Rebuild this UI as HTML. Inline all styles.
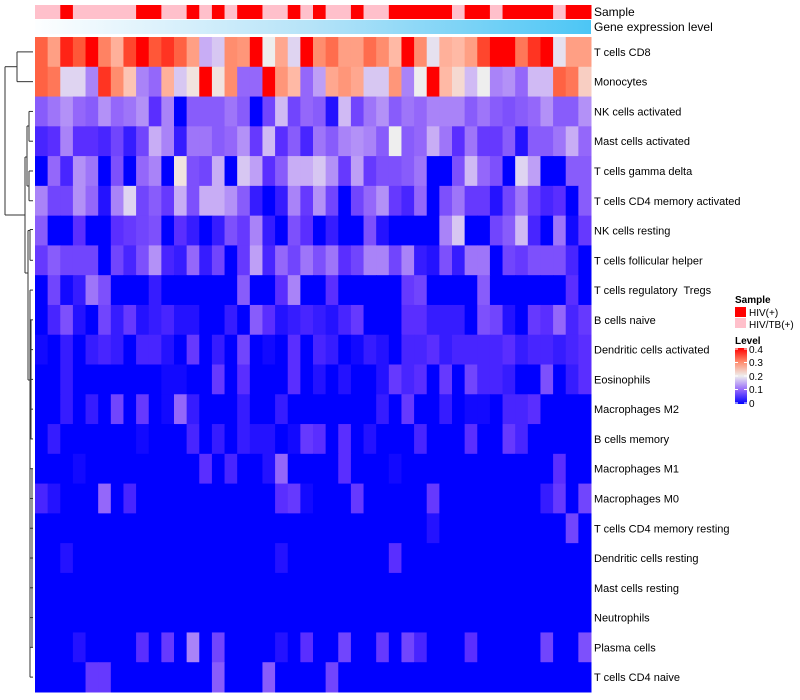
<!DOCTYPE html>
<html><head><meta charset="utf-8"><style>
html,body{margin:0;padding:0;background:#fff;}
svg{display:block;font-family:"Liberation Sans",sans-serif;}
#labels text{white-space:pre;}
</style></head><body>
<svg id="chart" width="800" height="700" viewBox="0 0 800 700" xmlns="http://www.w3.org/2000/svg">
<defs>
<linearGradient id="geneGrad" x1="0" x2="1" y1="0" y2="0"><stop offset="0" stop-color="#fdfeff"/><stop offset="0.5" stop-color="#b5e3f8"/><stop offset="1" stop-color="#4cc6f5"/></linearGradient>
<linearGradient id="levelGrad" x1="0" x2="0" y1="1" y2="0"><stop offset="0" stop-color="#0000ff"/><stop offset="0.25" stop-color="#9467fa"/><stop offset="0.5" stop-color="#eeeeee"/><stop offset="0.75" stop-color="#ff8d6e"/><stop offset="1" stop-color="#ff0000"/></linearGradient>
</defs>
<g id="dendro" stroke="#333" stroke-width="1" fill="none"></g>
<rect x="35" y="20" width="556" height="14" fill="url(#geneGrad)"/>
<g id="sampleBar"></g>
<g id="cells"></g>
<g id="labels" font-size="11" fill="#000"></g>
<text x="594" y="16" font-size="12">Sample</text>
<text x="594" y="31" font-size="12">Gene expression level</text>
<g font-size="10">
<text x="735" y="303" font-weight="bold">Sample</text>
<rect x="735" y="307" width="11" height="10" fill="#ff0000"/>
<text x="749" y="316">HIV(+)</text>
<rect x="735" y="318" width="11" height="10" fill="#ffc0cb"/>
<text x="749" y="328">HIV/TB(+)</text>
<text x="735" y="344" font-weight="bold">Level</text>
<rect x="735" y="348" width="12" height="56" fill="url(#levelGrad)"/>
<g stroke="#fff" stroke-width="1"><line x1="735" x2="738" y1="349" y2="349"/><line x1="744" x2="747" y1="349" y2="349"/><line x1="735" x2="738" y1="362.5" y2="362.5"/><line x1="744" x2="747" y1="362.5" y2="362.5"/><line x1="735" x2="738" y1="376" y2="376"/><line x1="744" x2="747" y1="376" y2="376"/><line x1="735" x2="738" y1="389.5" y2="389.5"/><line x1="744" x2="747" y1="389.5" y2="389.5"/><line x1="735" x2="738" y1="403" y2="403"/><line x1="744" x2="747" y1="403" y2="403"/></g>
<text x="749" y="353">0.4</text>
<text x="749" y="366">0.3</text>
<text x="749" y="380">0.2</text>
<text x="749" y="393">0.1</text>
<text x="749" y="407">0</text>
</g>
</svg>
<script>
const rowLabels = ["T cells CD8","Monocytes","NK cells activated","Mast cells activated","T cells gamma delta","T cells CD4 memory activated","NK cells resting","T cells follicular helper","T cells regulatory  Tregs","B cells naive","Dendritic cells activated","Eosinophils","Macrophages M2","B cells memory","Macrophages M1","Macrophages M0","T cells CD4 memory resting","Dendritic cells resting","Mast cells resting","Neutrophils","Plasma cells","T cells CD4 naive"];
const sampleGroups = ["T","T","H","T","T","T","T","T","H","H","T","T","H","T","H","T","H","H","T","T","H","T","H","T","T","H","T","T","H","H","H","H","H","T","H","H","T","H","H","H","H","T","H","H"];
const r0 = [0.34,0.28,0.38,0.35,0.4,0.31,0.26,0.36,0.4,0.35,0.37,0.34,0.28,0.15,0.17,0.3,0.29,0.4,0.2,0.27,0.18,0.4,0.3,0.33,0.28,0.28,0.33,0.3,0.25,0.4,0.3,0.19,0.26,0.25,0.28,0.36,0.4,0.4,0.32,0.37,0.4,0.19,0.28,0.28];
const r1 = [0.34,0.32,0.18,0.18,0.12,0.37,0.3,0.24,0.12,0.1,0.26,0.17,0.21,0.4,0.21,0.3,0.1,0.1,0.4,0.29,0.25,0.1,0.14,0.27,0.29,0.27,0.17,0.17,0.29,0.12,0.2,0.4,0.25,0.22,0.16,0.2,0.12,0.13,0.1,0.16,0.16,0.34,0.32,0.23];
const r2 = [0.09,0.11,0.13,0.1,0.09,0.13,0.1,0.11,0.13,0.05,0.12,0,0.09,0.09,0.09,0.11,0.09,0,0.07,0.16,0.07,0.1,0.09,0.02,0.16,0.07,0.11,0.13,0.09,0.11,0.1,0.12,0.12,0.12,0.09,0.11,0.09,0.08,0.09,0.1,0.13,0.09,0.09,0.13];
const r3 = [0.04,0.05,0.12,0.05,0.05,0.04,0.07,0.03,0.07,0.15,0.12,0.03,0.11,0.11,0.09,0.1,0.13,0.06,0.16,0.05,0.09,0.04,0.11,0.09,0.12,0.13,0.12,0.09,0.2,0.09,0.1,0.15,0.11,0.05,0.11,0.06,0.06,0.09,0.02,0.09,0.09,0.11,0.15,0.1];
const r4 = [0,0.1,0.04,0.13,0.11,0,0.08,0,0.1,0.12,0,0.21,0.08,0.07,0.15,0,0.17,0.14,0.05,0.09,0.15,0.15,0.17,0.13,0.06,0.14,0.06,0.08,0.08,0.09,0.11,0,0,0.08,0.16,0.1,0.08,0,0.18,0.14,0,0,0.09,0.09];
const r5 = [0.12,0.07,0.07,0.13,0.1,0.02,0.12,0.18,0.07,0.09,0.06,0.15,0.08,0.15,0.15,0.13,0.09,0.03,0,0.03,0.12,0.06,0.13,0.07,0,0.07,0.1,0.13,0.06,0.04,0.1,0,0.08,0.11,0.06,0.06,0.02,0.07,0.11,0.06,0.04,0.05,0,0.09];
const r6 = [0.09,0,0,0.05,0,0,0.05,0.06,0.07,0.08,0,0.05,0.03,0,0.03,0.08,0.06,0.12,0.03,0,0.08,0.05,0,0.03,0,0,0.08,0.02,0,0,0,0,0.12,0.17,0,0,0.07,0.09,0.16,0.04,0,0.11,0.01,0.06];
const r7 = [0.06,0.09,0.07,0.07,0.07,0,0.07,0.04,0.08,0.13,0.04,0.03,0.1,0.03,0.07,0,0.06,0.14,0.04,0.1,0.07,0.11,0.08,0.11,0.05,0.07,0.12,0.12,0.07,0.12,0.03,0.02,0.08,0.03,0.11,0.11,0,0.07,0.06,0.08,0.08,0.08,0.04,0];
const r8 = [0,0.07,0.01,0.03,0.11,0.08,0,0,0,0.03,0,0,0,0,0,0,0.09,0,0,0.05,0.12,0,0,0.05,0,0,0,0,0,0.06,0.07,0,0,0,0,0.09,0,0,0,0,0,0,0.05,0];
const r9 = [0,0.04,0.08,0.02,0,0.07,0.03,0.06,0.02,0.03,0.04,0.02,0.02,0,0,0.03,0,0.09,0.05,0.02,0.03,0.04,0.03,0.02,0.04,0.06,0,0,0,0.05,0.05,0.03,0.03,0.03,0,0.08,0.07,0.02,0,0.06,0.05,0.1,0.04,0.06];
const r10 = [0.01,0,0.03,0,0.03,0.04,0.03,0,0.04,0.04,0.02,0,0.06,0,0.03,0,0.07,0,0.01,0,0.05,0,0.04,0.03,0,0.01,0.03,0.02,0,0.04,0.04,0.05,0.03,0.04,0.04,0.04,0.04,0.05,0.03,0.04,0.04,0.03,0.04,0.05];
const r11 = [0,0,0.03,0,0,0,0,0,0,0,0.01,0.01,0,0,0.06,0,0.05,0,0,0,0.05,0,0.02,0,0.02,0,0,0.02,0.06,0.04,0.05,0,0.06,0,0.07,0.04,0.04,0.03,0,0,0.08,0,0.03,0.05];
const r12 = [0,0,0.03,0,0.03,0,0.07,0,0.06,0,0.01,0.1,0.03,0,0,0,0.03,0,0,0.03,0,0,0,0,0,0,0,0.03,0,0.06,0,0,0.03,0,0.01,0.01,0,0.04,0.04,0.05,0,0,0,0];
const r13 = [0,0.03,0,0,0,0,0,0,0.01,0,0,0,0.04,0,0.03,0,0.03,0.02,0.02,0,0.01,0.06,0.05,0,0.05,0,0.02,0,0,0,0.04,0,0,0,0.05,0,0,0.06,0.04,0,0,0,0,0];
const r14 = [0,0,0,0.01,0,0,0,0,0,0,0,0,0,0.05,0,0.04,0,0,0.02,0.1,0,0,0,0,0.05,0,0,0,0.01,0,0,0,0,0,0,0,0,0,0,0,0,0.05,0,0];
const r15 = [0.04,0.02,0,0,0,0.1,0,0.04,0,0,0,0,0,0,0,0,0,0,0,0.05,0.06,0.01,0,0,0,0.06,0,0,0,0,0,0.06,0,0,0,0,0,0,0,0,0.03,0.06,0,0.07];
const r16 = [0,0,0,0,0,0,0,0,0,0,0,0,0,0,0,0,0,0,0,0,0,0,0,0,0,0,0,0,0,0,0,0.02,0,0,0,0,0,0,0,0,0,0,0.07,0];
const r17 = [0,0,0.02,0,0,0,0,0,0,0,0,0,0,0,0,0,0,0,0,0.02,0,0,0,0,0,0,0,0,0.05,0,0,0,0,0,0,0,0,0,0,0,0,0,0,0];
const r18 = [0,0,0,0,0,0,0,0,0,0,0,0,0,0,0,0,0,0,0,0,0,0,0,0,0,0,0,0,0,0,0,0,0,0,0,0,0,0,0,0,0,0,0,0];
const r19 = [0,0,0,0,0,0,0,0,0,0,0,0,0,0,0,0,0,0,0,0,0,0,0,0,0,0,0,0,0,0,0,0,0,0,0,0,0,0,0,0,0,0,0,0];
const r20 = [0,0,0,0.02,0,0,0,0,0.05,0,0.06,0,0.12,0,0.07,0,0,0,0,0.02,0,0.05,0,0,0.07,0,0,0.06,0,0.07,0.04,0,0,0,0.05,0,0,0,0,0,0.07,0,0,0.08];
const r21 = [0,0,0,0,0.06,0.06,0,0,0,0,0,0,0,0,0.09,0,0,0,0.09,0,0,0,0,0.07,0,0,0,0,0,0,0,0,0,0,0,0,0,0,0,0,0,0,0,0];
const values = [r0,r1,r2,r3,r4,r5,r6,r7,r8,r9,r10,r11,r12,r13,r14,r15,r16,r17,r18,r19,r20,r21];

const NS = "http://www.w3.org/2000/svg";
const X0 = 35, X1 = 591, Y0 = 37, Y1 = 692;
const nCols = sampleGroups.length, nRows = rowLabels.length;
const cw = (X1 - X0) / nCols, rh = (Y1 - Y0) / nRows;
const xPos = i => X0 + i * cw;
const yPos = r => Y0 + r * rh;
const stops = [[0,[0,0,255]],[0.05,[90,46,255]],[0.1,[148,103,250]],[0.15,[200,173,245]],[0.2,[238,238,238]],[0.25,[255,185,165]],[0.3,[255,141,110]],[0.35,[255,87,56]],[0.4,[255,0,0]]];
function color(v){
  v = Math.max(0, Math.min(0.4, v));
  for (let k = 0; k < stops.length - 1; k++) {
    const [a, ca] = stops[k], [b, cb] = stops[k+1];
    if (v <= b) { const t = (v - a) / (b - a); return "rgb(" + ca.map((c, j) => Math.round(c + (cb[j] - c) * t)).join(",") + ")"; }
  }
  return "rgb(255,0,0)";
}
const sb = document.getElementById("sampleBar");
sampleGroups.forEach((g, i) => {
  const el = document.createElementNS(NS, "rect");
  el.setAttribute("x", xPos(i)); el.setAttribute("y", 5);
  el.setAttribute("width", cw + 0.5); el.setAttribute("height", 14);
  el.setAttribute("fill", g === "H" ? "#ff0000" : "#ffc0cb");
  
  
  sb.appendChild(el);
});
const cells = document.getElementById("cells");
values.forEach((row, r) => {
  row.forEach((v, i) => {
    const el = document.createElementNS(NS, "rect");
    el.setAttribute("x", xPos(i)); el.setAttribute("y", yPos(r));
    el.setAttribute("width", cw + 0.5); el.setAttribute("height", rh + 0.5);
    el.setAttribute("fill", color(v));
    
    
    cells.appendChild(el);
  });
});
const lab = document.getElementById("labels");
rowLabels.forEach((t, r) => {
  const el = document.createElementNS(NS, "text");
  el.setAttribute("x", 594); el.setAttribute("y", yPos(r) + rh / 2 + 4);
  el.textContent = t;
  
  
  lab.appendChild(el);
});
const dg = document.getElementById("dendro");
const cy = r => yPos(r) + rh / 2;
const segs = [
 [5,66.7,5,215],[5,66.7,17,66.7],[17,cy(0),17,cy(1)],[17,cy(0),33,cy(0)],[17,cy(1),33,cy(1)],
 [5,215,25,215],[25,157,25,273],[25,157,27,157],[27,126,27,186],[27,126,29,126],[29,cy(2),29,cy(3)],[29,cy(2),33,cy(2)],[29,cy(3),33,cy(3)],
 [27,186,29,186],[29,cy(4),29,cy(5)],[29,cy(4),33,cy(4)],[29,cy(5),33,cy(5)],
 [25,273,28,273],[28,cy(6),28,380],[28,cy(6),30,cy(6)],[30,cy(6)-1,30,cy(7)],[30,cy(7),33,cy(7)],[30,cy(6)-1,33,cy(6)-1],
 [28,380,30,380],[30,cy(8),30,cy(21)],[30,cy(8),33,cy(8)]
];
for (let r = 9; r <= 21; r++) segs.push([30, cy(r), 33, cy(r)]);
segs.push([31,cy(9),31,cy(13)],[32,cy(14),32,cy(20)]);
segs.forEach(s => {
  const el = document.createElementNS(NS, "line");
  el.setAttribute("x1", s[0]); el.setAttribute("y1", s[1]); el.setAttribute("x2", s[2]); el.setAttribute("y2", s[3]);
  
  
  dg.appendChild(el);
});
</script>
</body></html>
